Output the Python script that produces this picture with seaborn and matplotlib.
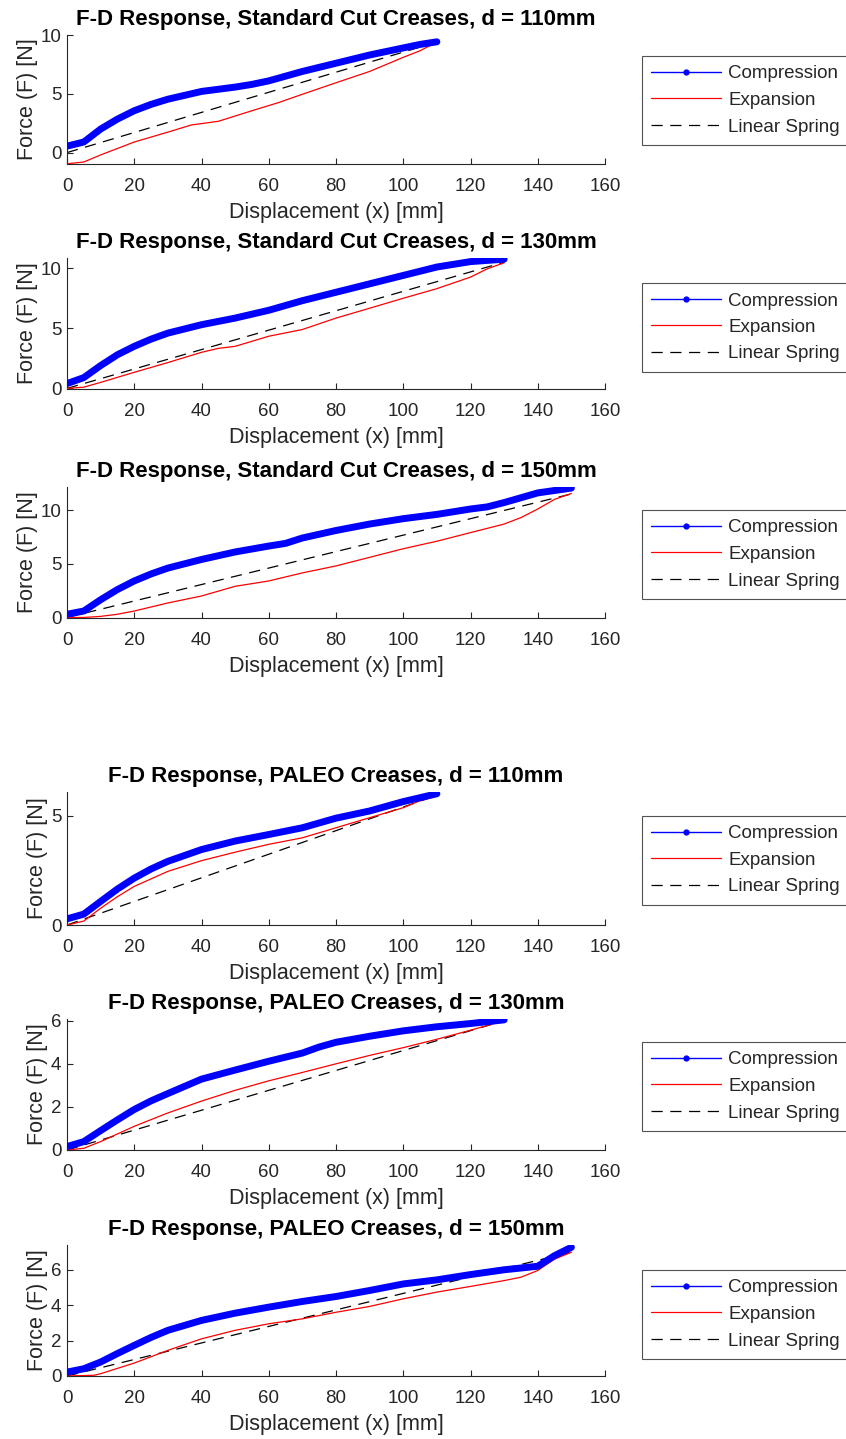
import numpy as np
import pandas as pd
import matplotlib
matplotlib.use("Agg")
import matplotlib.pyplot as plt
from matplotlib.lines import Line2D
import seaborn as sns

# ---------------- Standard cut creases ----------------
std110_comp_x = [0, 5, 10, 15, 20, 25, 30, 40, 50, 55, 60, 70, 80, 90, 100, 105, 110]
std110_comp_f = [0.55, 0.9, 2.0, 2.85, 3.56, 4.1, 4.54, 5.2, 5.57, 5.8, 6.1, 6.9, 7.6, 8.3, 8.9, 9.2, 9.42]
std110_exp_x = [0, 5, 10, 20, 30, 37, 45, 55, 63, 70, 80, 90, 100, 105, 110]
std110_exp_f = [-0.95, -0.8, -0.2, 0.9, 1.74, 2.35, 2.66, 3.56, 4.26, 4.96, 5.94, 6.9, 8.1, 8.66, 9.4]
std110_spring_x = [0, 110]
std110_spring_f = [0.0, 9.4]

std130_comp_x = [0, 5, 10, 15, 20, 25, 30, 40, 50, 60, 70, 80, 90, 100, 110, 120, 130]
std130_comp_f = [0.4, 0.9, 1.9, 2.8, 3.5, 4.1, 4.6, 5.3, 5.85, 6.5, 7.3, 8.0, 8.7, 9.4, 10.1, 10.55, 10.75]
std130_exp_x = [0, 5, 10, 20, 30, 40, 45, 50, 60, 70, 80, 90, 100, 110, 120, 125, 130]
std130_exp_f = [0.0, 0.1, 0.5, 1.34, 2.15, 3.0, 3.33, 3.5, 4.34, 4.9, 5.85, 6.67, 7.5, 8.3, 9.26, 9.95, 10.45]
std130_spring_x = [0, 130]
std130_spring_f = [0.0, 10.5]

std150_comp_x = [0, 5, 10, 15, 20, 25, 30, 40, 50, 60, 65, 70, 80, 90, 100, 110, 120, 125, 130, 140, 150]
std150_comp_f = [0.3, 0.6, 1.65, 2.6, 3.4, 4.05, 4.6, 5.4, 6.1, 6.65, 6.9, 7.4, 8.1, 8.7, 9.2, 9.6, 10.1, 10.3, 10.7, 11.6, 12.05]
std150_exp_x = [0, 5, 10, 15, 20, 30, 40, 50, 60, 70, 80, 90, 100, 110, 120, 130, 135, 140, 145, 150]
std150_exp_f = [0.0, 0.0, 0.1, 0.3, 0.6, 1.35, 2.0, 2.9, 3.4, 4.15, 4.8, 5.6, 6.4, 7.1, 7.9, 8.7, 9.3, 10.1, 11.0, 11.55]
std150_spring_x = [0, 150]
std150_spring_f = [0.0, 11.5]

# ---------------- PALEO creases ----------------
pal110_comp_x = [0, 5, 10, 15, 20, 25, 30, 40, 50, 60, 70, 80, 90, 100, 110]
pal110_comp_f = [0.28, 0.5, 1.08, 1.65, 2.15, 2.57, 2.92, 3.46, 3.85, 4.15, 4.46, 4.9, 5.23, 5.66, 6.02]
pal110_exp_x = [0, 5, 10, 15, 20, 30, 40, 50, 60, 70, 80, 90, 100, 105, 110]
pal110_exp_f = [0.0, 0.18, 0.77, 1.3, 1.77, 2.46, 2.95, 3.34, 3.7, 4.0, 4.46, 4.92, 5.38, 5.7, 5.92]
pal110_spring_x = [0, 110]
pal110_spring_f = [0.0, 5.95]

pal130_comp_x = [0, 5, 10, 15, 20, 25, 30, 40, 50, 60, 70, 75, 80, 90, 100, 110, 120, 130]
pal130_comp_f = [0.16, 0.39, 0.9, 1.4, 1.88, 2.28, 2.62, 3.29, 3.71, 4.12, 4.5, 4.78, 5.0, 5.28, 5.53, 5.72, 5.87, 6.04]
pal130_exp_x = [0, 5, 10, 20, 30, 40, 50, 60, 70, 80, 90, 100, 110, 120, 130]
pal130_exp_f = [0.0, 0.08, 0.39, 1.1, 1.72, 2.27, 2.77, 3.21, 3.6, 4.0, 4.39, 4.75, 5.14, 5.56, 6.0]
pal130_spring_x = [0, 130]
pal130_spring_f = [0.0, 6.0]

pal150_comp_x = [0, 5, 10, 15, 20, 25, 30, 40, 50, 60, 70, 80, 90, 100, 110, 120, 130, 135, 140, 145, 150]
pal150_comp_f = [0.22, 0.41, 0.79, 1.27, 1.73, 2.18, 2.58, 3.14, 3.55, 3.89, 4.21, 4.49, 4.83, 5.2, 5.43, 5.73, 6.0, 6.1, 6.2, 6.8, 7.27]
pal150_exp_x = [0, 8, 10, 20, 30, 40, 50, 60, 70, 80, 90, 100, 110, 120, 130, 135, 140, 145, 150]
pal150_exp_f = [0.0, 0.04, 0.13, 0.73, 1.45, 2.1, 2.58, 2.95, 3.23, 3.6, 3.93, 4.36, 4.74, 5.06, 5.39, 5.58, 5.96, 6.6, 6.99]
pal150_spring_x = [0, 150]
pal150_spring_f = [0.0, 7.0]

titles = [
    "F-D Response, Standard Cut Creases, d = 110mm",
    "F-D Response, Standard Cut Creases, d = 130mm",
    "F-D Response, Standard Cut Creases, d = 150mm",
    "F-D Response, PALEO Creases, d = 110mm",
    "F-D Response, PALEO Creases, d = 130mm",
    "F-D Response, PALEO Creases, d = 150mm",
]
y_limits = [(-0.97, 10.0), (-0.05, 10.85), (-0.05, 12.15), (0.0, 6.1), (0.0, 6.08), (0.0, 7.4)]
y_ticks = [[0, 5, 10], [0, 5, 10], [0, 5, 10], [0, 5], [0, 2, 4, 6], [0, 2, 4, 6]]
x_ticks = [0, 20, 40, 60, 80, 100, 120, 140, 160]
legend_labels = ["Compression", "Expansion", "Linear Spring"]

curves = [
    (std110_comp_x, std110_comp_f, std110_exp_x, std110_exp_f, std110_spring_x, std110_spring_f),
    (std130_comp_x, std130_comp_f, std130_exp_x, std130_exp_f, std130_spring_x, std130_spring_f),
    (std150_comp_x, std150_comp_f, std150_exp_x, std150_exp_f, std150_spring_x, std150_spring_f),
    (pal110_comp_x, pal110_comp_f, pal110_exp_x, pal110_exp_f, pal110_spring_x, pal110_spring_f),
    (pal130_comp_x, pal130_comp_f, pal130_exp_x, pal130_exp_f, pal130_spring_x, pal130_spring_f),
    (pal150_comp_x, pal150_comp_f, pal150_exp_x, pal150_exp_f, pal150_spring_x, pal150_spring_f),
]

# axes boxes in pixels (top, bottom), figure is 846 x 1439
W, H = 846, 1439
ax_rows = [(35, 164), (258, 389), (487, 618), (792, 925), (1019, 1150), (1245, 1376)]
legend_tops = [56, 283, 510, 816, 1042, 1270]
ax_left, ax_right = 67, 605

sns.set_style("ticks")
plt.rcParams['font.family'] = ['Liberation Sans', 'DejaVu Sans']
plt.rcParams['xtick.direction'] = 'in'
plt.rcParams['ytick.direction'] = 'in'
grey = '#262626'
dash = (0, (9, 6))

fig = plt.figure(figsize=(W / 100, H / 100), dpi=100)

for i in range(6):
    top, bot = ax_rows[i]
    ax = fig.add_axes([ax_left / W, 1 - bot / H, (ax_right - ax_left) / W, (bot - top) / H])
    cx, cf, ex, ef, sx, sf = curves[i]

    sns.lineplot(x=sx, y=sf, ax=ax, color='black', lw=0.9, linestyle=dash, zorder=2)
    sns.lineplot(x=ex, y=ef, ax=ax, color='red', lw=0.9, zorder=3)
    sns.lineplot(x=cx, y=cf, ax=ax, color='blue', lw=5.0, zorder=4,
                 solid_capstyle='round', solid_joinstyle='round')

    ax.set_xlim(0, 160)
    ax.set_ylim(*y_limits[i])
    ax.set_xticks(x_ticks)
    ax.set_yticks(y_ticks[i])
    ax.tick_params(axis='both', labelsize=13.5, colors=grey, length=4, width=0.8)
    ax.tick_params(axis='x', pad=10)
    ax.tick_params(axis='y', pad=4)
    for side in ['top', 'right']:
        ax.spines[side].set_visible(False)
    for side in ['left', 'bottom']:
        ax.spines[side].set_color(grey)
        ax.spines[side].set_linewidth(0.8)

    ax.set_xlabel("Displacement (x) [mm]", fontsize=15.5, color=grey, labelpad=5)
    ax.set_ylabel("Force (F) [N]", fontsize=15.5, color=grey, labelpad=2)
    ax.set_title(titles[i], fontsize=16, fontweight='bold', color='black', pad=7)

    handles = [
        Line2D([], [], color='blue', lw=1.0, marker='.', markersize=7),
        Line2D([], [], color='red', lw=0.9),
        Line2D([], [], color='black', lw=0.9, linestyle=dash),
    ]
    leg = fig.legend(handles, legend_labels, loc='upper left',
                     bbox_to_anchor=(642 / W, 1 - legend_tops[i] / H),
                     bbox_transform=fig.transFigure, borderaxespad=0,
                     fontsize=13.5, frameon=True, fancybox=False, numpoints=1,
                     handlelength=3.7, handletextpad=0.4, labelspacing=0.5,
                     borderpad=0.5)
    leg.get_frame().set_edgecolor(grey)
    leg.get_frame().set_linewidth(0.8)

fig.savefig("out.png", dpi=100)
